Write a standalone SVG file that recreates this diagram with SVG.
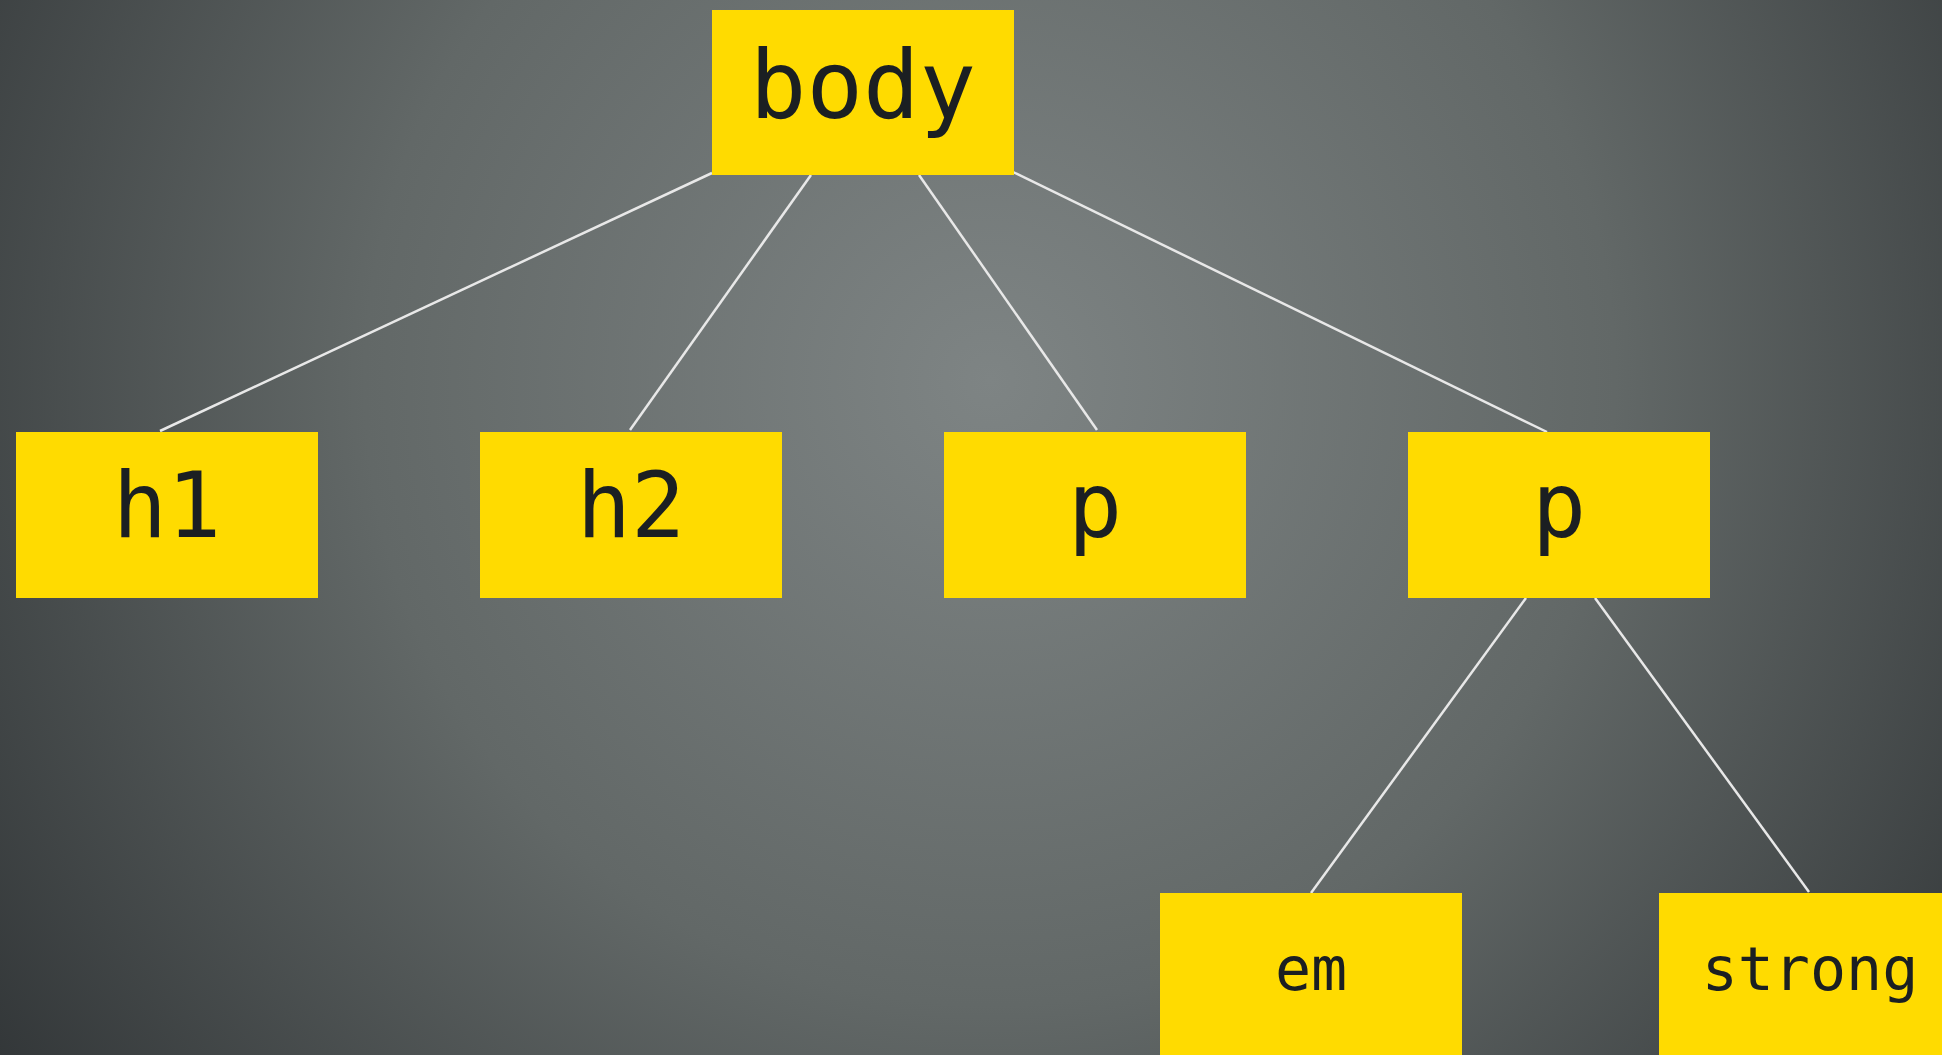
<svg xmlns="http://www.w3.org/2000/svg" width="1942" height="1055" viewBox="0 0 1942 1055">
<defs>
<radialGradient id="bg" cx="990" cy="380" r="1250" gradientUnits="userSpaceOnUse">
<stop offset="0" stop-color="#7e8484"/>
<stop offset="0.5" stop-color="#626867"/>
<stop offset="1" stop-color="#2f3335"/>
</radialGradient>
<style>
.box{fill:#ffdb00}
.t{font-family:"DejaVu Sans Mono","Liberation Mono",monospace;fill:#1b1f22;text-anchor:middle}
.big{font-size:94px}
.mid{font-size:90px}
.sm{font-size:60px}
.edge{stroke:#e8e8e8;stroke-width:2.5;fill:none}
</style>
</defs>
<rect width="1942" height="1055" fill="url(#bg)"/>
<g id="connectors">
<line class="edge" x1="712" y1="173" x2="160" y2="431"/>
<line class="edge" x1="811" y1="175" x2="630" y2="430"/>
<line class="edge" x1="919" y1="175" x2="1097" y2="430"/>
<line class="edge" x1="1013" y1="172" x2="1547" y2="432"/>
<line class="edge" x1="1526" y1="598" x2="1311" y2="893"/>
<line class="edge" x1="1595" y1="598" x2="1809" y2="892"/>
</g>
<g id="body"><rect class="box" x="712" y="10" width="302" height="165"/><text class="t big" x="863" y="118">body</text></g>
<g id="h1"><rect class="box" x="16" y="432" width="302" height="166"/><text class="t mid" x="167" y="537">h1</text></g>
<g id="h2"><rect class="box" x="480" y="432" width="302" height="166"/><text class="t mid" x="631" y="537">h2</text></g>
<g id="p1"><rect class="box" x="944" y="432" width="302" height="166"/><text class="t mid" x="1095" y="537">p</text></g>
<g id="p2"><rect class="box" x="1408" y="432" width="302" height="166"/><text class="t mid" x="1559" y="537">p</text></g>
<g id="em"><rect class="box" x="1160" y="893" width="302" height="170"/><text class="t sm" x="1311" y="990">em</text></g>
<g id="strong"><rect class="box" x="1659" y="893" width="302" height="170"/><text class="t sm" x="1810" y="990">strong</text></g>
</svg>
